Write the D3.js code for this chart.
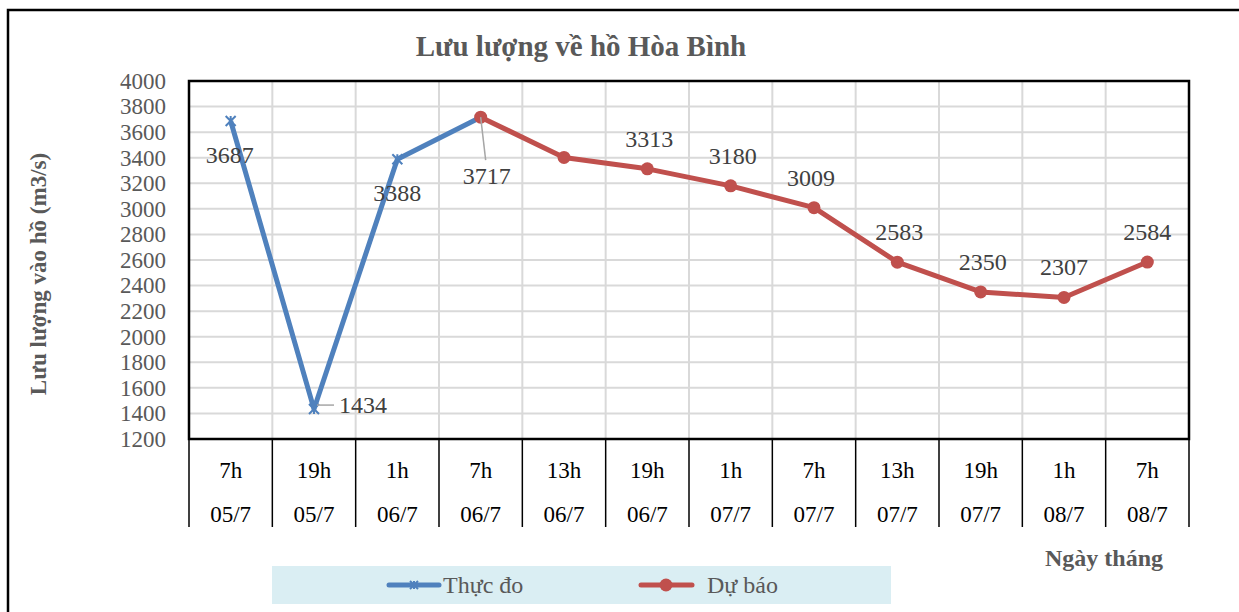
<!DOCTYPE html>
<html>
<head>
<meta charset="utf-8">
<script src="https://cdn.jsdelivr.net/npm/d3@7"></script>
<style>
  body { margin: 0; background: #fff; }
  svg text { font-family: "Liberation Serif", "Times New Roman", serif; }
</style>
</head>
<body>
<svg id="chart" width="1239" height="612"></svg>
<script>
// Data
const hours = ["7h", "19h", "1h", "7h", "13h", "19h", "1h", "7h", "13h", "19h", "1h", "7h"];
const dates = ["05/7", "05/7", "06/7", "06/7", "06/7", "06/7", "07/7", "07/7", "07/7", "07/7", "08/7", "08/7"];
const observed = [3687, 1434, 3388, 3717];            // Thực đo (index 0-3)
const forecast = [null, null, null, 3717, 3402, 3313, 3180, 3009, 2583, 2350, 2307, 2584]; // Dự báo
const forecastShowLabel = [false, false, false, false, false, true, true, true, true, true, true, true];
const yTicks = [1200, 1400, 1600, 1800, 2000, 2200, 2400, 2600, 2800, 3000, 3200, 3400, 3600, 3800, 4000];

const BLUE = "#4F81BD", RED = "#C0504D";
const FONT = "Liberation Serif";
const svg = d3.select("#chart");
const m = {left: 189, right: 1189, top: 81, bottom: 439};

const x = d3.scaleBand().domain(d3.range(hours.length)).range([m.left, m.right]);
const y = d3.scaleLinear().domain([1200, 4000]).range([m.bottom, m.top]);
const cx = i => x(i) + x.bandwidth() / 2;

// outer frame (only top and left visible)
svg.append("path").attr("d", "M8,612 L8,10 L1239,10")
  .attr("fill", "none").attr("stroke", "#000").attr("stroke-width", 2.5);

// title
svg.append("text").attr("x", 581).attr("y", 56).attr("text-anchor", "middle")
  .attr("font-family", FONT).attr("font-size", 29).attr("font-weight", "bold").attr("fill", "#595959")
  .text("Lưu lượng về hồ Hòa Bình");

// gridlines
svg.append("g").selectAll("line").data(yTicks).join("line")
  .attr("x1", m.left).attr("x2", m.right)
  .attr("y1", d => y(d)).attr("y2", d => y(d))
  .attr("stroke", "#d9d9d9").attr("stroke-width", 2);
svg.append("g").selectAll("line").data(d3.range(1, hours.length)).join("line")
  .attr("x1", d => x(d)).attr("x2", d => x(d))
  .attr("y1", m.top).attr("y2", m.bottom)
  .attr("stroke", "#d9d9d9").attr("stroke-width", 2);

// plot border
svg.append("rect").attr("x", m.left).attr("y", m.top)
  .attr("width", m.right - m.left).attr("height", m.bottom - m.top)
  .attr("fill", "none").attr("stroke", "#000").attr("stroke-width", 2.5);

// y axis labels
const yAxis = d3.axisLeft(y).tickValues(yTicks).tickFormat(d3.format("d")).tickSize(0).tickPadding(23);
const gy = svg.append("g").attr("transform", `translate(${m.left},0)`).call(yAxis)
  .attr("font-family", FONT).attr("font-size", 23);
gy.select(".domain").remove();
gy.selectAll("text").attr("fill", "#595959");

// y title
svg.append("text")
  .attr("transform", `translate(46,${(m.top + m.bottom) / 2 + 14}) rotate(-90)`)
  .attr("text-anchor", "middle").attr("font-family", FONT).attr("font-size", 23).attr("font-weight", "bold")
  .attr("fill", "#595959").text("Lưu lượng vào hồ (m3/s)");

// category table below axis
const gx = svg.append("g").attr("font-family", FONT).attr("font-size", 23);
gx.selectAll("line").data(d3.range(hours.length + 1)).join("line")
  .attr("x1", d => m.left + d * x.step()).attr("x2", d => m.left + d * x.step())
  .attr("y1", m.bottom).attr("y2", 527)
  .attr("stroke", "#000").attr("stroke-width", 1.5);
gx.selectAll("text.h").data(hours).join("text").attr("class", "h")
  .attr("x", (d, i) => cx(i)).attr("y", 478).attr("text-anchor", "middle")
  .attr("fill", "#000").text(d => d);
gx.selectAll("text.d").data(dates).join("text").attr("class", "d")
  .attr("x", (d, i) => cx(i)).attr("y", 522).attr("text-anchor", "middle")
  .attr("fill", "#000").text(d => d);

svg.append("text").attr("x", 1104).attr("y", 566).attr("text-anchor", "middle")
  .attr("font-family", FONT).attr("font-size", 24).attr("font-weight", "bold").attr("fill", "#595959")
  .text("Ngày tháng");

// lines
const line = d3.line().defined(d => d[1] != null).x(d => cx(d[0])).y(d => y(d[1]));
svg.append("path").datum(forecast.map((v, i) => [i, v]))
  .attr("d", line).attr("fill", "none").attr("stroke", RED)
  .attr("stroke-width", 5).attr("stroke-linejoin", "round");
svg.append("path").datum(observed.map((v, i) => [i, v]))
  .attr("d", line).attr("fill", "none").attr("stroke", BLUE)
  .attr("stroke-width", 5).attr("stroke-linejoin", "round");

// markers
svg.append("g").selectAll("circle").data(forecast.map((v, i) => [i, v]).filter(d => d[1] != null))
  .join("circle").attr("cx", d => cx(d[0])).attr("cy", d => y(d[1])).attr("r", 6.5).attr("fill", RED);

function star(g, px, py, s) {
  g.append("path")
    .attr("d", `M${px - s},${py - s}L${px + s},${py + s}M${px - s},${py + s}L${px + s},${py - s}M${px},${py - s}L${px},${py + s}`)
    .attr("stroke", BLUE).attr("stroke-width", 2).attr("fill", "none");
}
const gStar = svg.append("g");
observed.slice(0, 3).forEach((v, i) => star(gStar, cx(i), y(v), 5));

// leader lines
svg.append("line").attr("x1", cx(1) + 3).attr("y1", y(observed[1]) - 4)
  .attr("x2", cx(1) + 20).attr("y2", y(observed[1]) - 4).attr("stroke", "#a6a6a6").attr("stroke-width", 1.5);
svg.append("line").attr("x1", cx(3)).attr("y1", y(observed[3]))
  .attr("x2", cx(3) + 5).attr("y2", y(observed[3]) + 43).attr("stroke", "#a6a6a6").attr("stroke-width", 1.5);

// data labels
const lbl = svg.append("g").attr("font-family", FONT).attr("font-size", 24)
  .attr("fill", "#404040").attr("text-anchor", "middle");
lbl.append("text").attr("x", cx(0) - 1).attr("y", y(observed[0]) + 42).text(observed[0]);
lbl.append("text").attr("x", cx(1) + 25).attr("y", y(observed[1]) + 4).attr("text-anchor", "start").text(observed[1]);
lbl.append("text").attr("x", cx(2)).attr("y", y(observed[2]) + 42).text(observed[2]);
lbl.append("text").attr("x", cx(3) + 6).attr("y", y(observed[3]) + 67).text(observed[3]);

const fcDx = [0, 0, 0, 0, 0, 2, 2, -3, 2, 2, 0, 0];
forecast.forEach((v, i) => {
  if (!forecastShowLabel[i]) return;
  lbl.append("text").attr("x", cx(i) + fcDx[i]).attr("y", y(v) - 22).text(v);
});

// legend
const lg = svg.append("g");
lg.append("rect").attr("x", 272).attr("y", 566).attr("width", 619).attr("height", 38).attr("fill", "#DAEEF3");
lg.append("line").attr("x1", 389).attr("x2", 439).attr("y1", 585).attr("y2", 585)
  .attr("stroke", BLUE).attr("stroke-width", 5).attr("stroke-linecap", "round");
star(lg, 414, 585, 4);
lg.append("text").attr("x", 443).attr("y", 593).attr("font-family", FONT).attr("font-size", 24)
  .attr("fill", "#595959").text("Thực đo");
lg.append("line").attr("x1", 641).attr("x2", 692).attr("y1", 585).attr("y2", 585)
  .attr("stroke", RED).attr("stroke-width", 5).attr("stroke-linecap", "round");
lg.append("circle").attr("cx", 666).attr("cy", 585).attr("r", 6.5).attr("fill", RED);
lg.append("text").attr("x", 707).attr("y", 593).attr("font-family", FONT).attr("font-size", 24)
  .attr("fill", "#595959").text("Dự báo");
</script>
</body>
</html>
